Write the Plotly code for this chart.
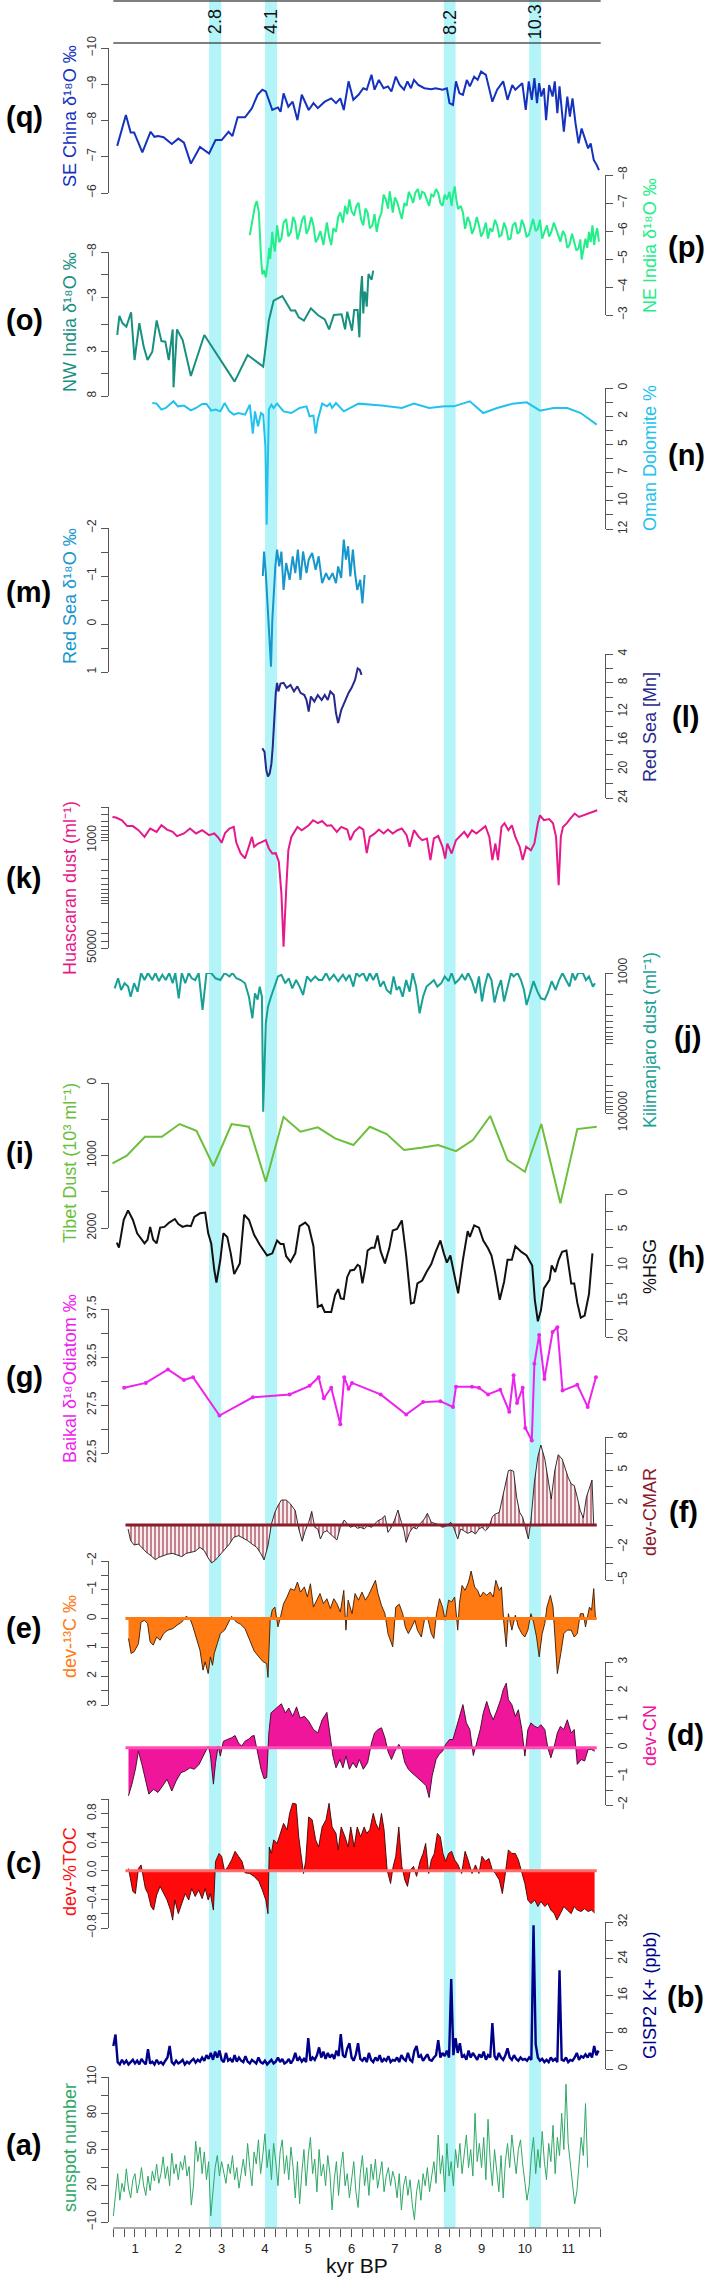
import plotly.graph_objects as go

# ---------------- data: (kyr BP, value) ----------------
se_china = [(0.59, -7.3), (0.79, -8.15), (0.9, -7.67), (0.98, -7.67), (1.17, -7.12), (1.36, -7.69), (1.45, -7.55),
            (1.53, -7.57), (1.66, -7.54), (1.85, -7.35), (2.0, -7.5), (2.13, -7.39), (2.29, -6.81), (2.5, -7.27),
            (2.71, -7.09), (2.86, -7.46), (3.0, -7.46), (3.16, -7.69), (3.25, -7.57), (3.37, -8.09), (3.54, -8.09),
            (3.7, -8.34), (3.83, -8.71), (3.94, -8.85), (4.02, -8.8), (4.17, -8.29), (4.3, -8.36), (4.36, -8.24),
            (4.43, -8.75), (4.54, -8.38), (4.64, -8.52), (4.75, -8.01), (4.85, -8.71), (5.01, -8.29), (5.12, -8.48),
            (5.22, -8.34), (5.38, -8.52), (5.53, -8.61), (5.64, -8.48), (5.74, -8.61), (5.82, -8.29), (5.93, -9.08),
            (6.04, -8.57), (6.16, -8.71), (6.27, -8.89), (6.35, -8.85), (6.46, -9.26), (6.53, -8.85), (6.63, -9.12),
            (6.74, -8.89), (6.84, -8.94), (6.92, -8.8), (7.02, -9.21), (7.11, -8.98), (7.21, -8.85), (7.29, -9.08),
            (7.37, -8.89), (7.44, -9.12), (7.54, -8.98), (7.68, -8.89), (7.84, -8.86), (7.94, -8.89), (8.1, -8.85),
            (8.2, -8.89), (8.26, -8.48), (8.34, -8.43), (8.41, -9.08), (8.49, -8.75), (8.57, -8.71), (8.66, -9.12),
            (8.73, -8.94), (8.83, -9.21), (8.91, -9.12), (8.99, -9.35), (9.1, -9.26), (9.25, -8.52), (9.36, -8.85),
            (9.5, -9.08), (9.6, -8.57), (9.71, -8.98), (9.78, -8.85), (9.85, -8.94), (9.94, -9.03), (10.02, -8.29),
            (10.09, -9.08), (10.16, -8.57), (10.22, -9.17), (10.28, -8.48), (10.33, -9.03), (10.38, -8.66),
            (10.44, -8.89), (10.49, -8.01), (10.56, -8.98), (10.64, -8.66), (10.69, -9.08), (10.75, -8.2),
            (10.8, -8.94), (10.9, -7.69), (10.98, -8.66), (11.04, -8.11), (11.1, -8.61), (11.17, -7.92),
            (11.24, -7.37), (11.31, -7.78), (11.4, -7.46), (11.46, -7.23), (11.52, -7.37), (11.59, -6.91),
            (11.66, -6.77), (11.71, -6.63)]

ne_india = [(3.65, -5.85), (3.69, -6.2), (3.73, -6.43), (3.77, -6.9), (3.81, -7.07), (3.86, -6.66), (3.91, -5.03),
            (3.94, -4.45), (3.98, -4.6), (4.02, -4.34), (4.07, -4.92), (4.1, -5.4), (4.12, -5.0), (4.17, -5.97),
            (4.2, -5.5), (4.23, -5.27), (4.28, -6.2), (4.33, -5.6), (4.38, -5.73), (4.43, -6.3), (4.49, -6.43),
            (4.54, -5.8), (4.6, -5.97), (4.65, -6.5), (4.7, -6.31), (4.75, -5.7), (4.8, -5.97), (4.86, -6.4),
            (4.91, -6.55), (4.96, -5.9), (5.01, -6.08), (5.07, -6.5), (5.12, -6.2), (5.17, -5.6), (5.22, -5.73),
            (5.28, -6.0), (5.35, -5.5), (5.39, -5.9), (5.43, -6.31), (5.48, -5.8), (5.53, -5.5), (5.58, -6.1),
            (5.64, -5.97), (5.69, -6.5), (5.74, -6.66), (5.8, -6.3), (5.85, -6.9), (5.9, -6.6), (5.95, -7.13),
            (6.0, -6.7), (6.06, -6.55), (6.11, -6.9), (6.16, -7.01), (6.22, -6.4), (6.27, -6.2), (6.32, -6.8),
            (6.37, -6.66), (6.42, -6.1), (6.48, -6.2), (6.53, -6.6), (6.58, -5.97), (6.63, -6.4), (6.69, -6.66),
            (6.74, -7.3), (6.79, -7.13), (6.84, -6.8), (6.88, -7.42), (6.92, -7.0), (6.95, -6.66), (7.0, -7.2),
            (7.06, -7.01), (7.11, -6.7), (7.16, -6.43), (7.22, -7.0), (7.27, -6.9), (7.32, -7.4), (7.37, -7.24),
            (7.42, -7.0), (7.47, -7.36), (7.53, -7.5), (7.58, -7.13), (7.63, -7.4), (7.68, -7.36), (7.74, -7.1),
            (7.79, -6.9), (7.84, -7.3), (7.89, -7.24), (7.95, -7.5), (8.0, -7.36), (8.05, -7.0), (8.1, -6.9),
            (8.15, -7.3), (8.2, -7.13), (8.26, -7.4), (8.31, -6.9), (8.34, -7.3), (8.38, -7.59), (8.42, -7.1),
            (8.46, -6.78), (8.52, -6.9), (8.57, -6.66), (8.62, -6.08), (8.68, -6.5), (8.73, -6.31), (8.78, -5.9),
            (8.83, -6.08), (8.89, -6.5), (8.94, -6.2), (8.99, -5.8), (9.04, -5.97), (9.1, -6.3), (9.15, -5.73),
            (9.2, -6.1), (9.25, -5.97), (9.31, -6.4), (9.36, -6.2), (9.41, -5.8), (9.46, -5.85), (9.52, -6.3),
            (9.57, -6.08), (9.62, -5.7), (9.67, -5.73), (9.72, -6.2), (9.78, -6.31), (9.83, -5.9), (9.88, -5.97),
            (9.93, -6.4), (9.98, -6.2), (10.04, -5.8), (10.09, -5.85), (10.14, -6.2), (10.19, -6.43), (10.25, -6.0),
            (10.3, -6.08), (10.35, -6.4), (10.4, -5.73), (10.46, -6.0), (10.51, -6.2), (10.56, -5.8), (10.61, -5.97),
            (10.67, -6.3), (10.72, -6.08), (10.77, -5.8), (10.82, -5.62), (10.88, -6.0), (10.93, -5.85),
            (10.98, -5.4), (11.03, -5.5), (11.09, -5.9), (11.14, -5.62), (11.19, -5.3), (11.24, -5.38),
            (11.28, -5.7), (11.31, -4.98), (11.36, -5.4), (11.4, -5.73), (11.44, -5.4), (11.48, -5.97),
            (11.52, -5.6), (11.56, -6.2), (11.6, -5.5), (11.63, -5.85), (11.67, -6.1), (11.71, -5.62)]

nw_india = [(0.59, 1.22), (0.64, -0.9), (0.71, -0.1), (0.8, 0.3), (0.91, -1.3), (0.99, 4.0), (1.1, -0.1),
            (1.2, 2.5), (1.29, 4.0), (1.4, 3.07), (1.5, -0.4), (1.61, 1.9), (1.7, 1.96), (1.78, 4.0), (1.87, 0.6),
            (1.89, 7.04), (1.97, 0.6), (2.1, 1.78), (2.29, 5.78), (2.6, 1.22), (3.3, 6.4), (3.6, 3.44),
            (3.96, 4.74), (4.09, -0.4), (4.2, -2.6), (4.4, -3.1), (4.6, -1.5), (4.7, -1.5), (4.78, -0.74),
            (4.9, -0.37), (5.06, -1.74), (5.22, -1.0), (5.38, -0.52), (5.48, 0.6), (5.59, -1.0), (5.77, -1.07),
            (5.85, 0.6), (5.9, -1.37), (6.01, 0.74), (6.06, -1.55), (6.14, -1.55), (6.18, 1.48), (6.21, -3.48),
            (6.24, -5.33), (6.27, -1.18), (6.3, -3.6), (6.32, -3.4), (6.35, -1.93), (6.39, -5.56), (6.46, -4.9),
            (6.5, -5.93)]

oman_dolomite = [(1.4, 1.28), (1.5, 1.33), (1.61, 1.84), (1.71, 1.7), (1.89, 1.13), (1.99, 1.56), (2.13, 1.5),
                 (2.29, 1.9), (2.41, 1.7), (2.55, 1.36), (2.65, 1.36), (2.76, 1.93), (2.86, 1.84), (2.97, 1.99),
                 (3.07, 1.28), (3.18, 1.99), (3.28, 2.27), (3.39, 2.13), (3.54, 2.27), (3.65, 1.42), (3.72, 3.89),
                 (3.77, 1.99), (3.84, 3.26), (3.91, 2.13), (3.96, 2.27), (4.01, 4.96), (4.04, 11.63), (4.09, 1.84),
                 (4.15, 1.42), (4.2, 1.7), (4.28, 1.33), (4.43, 1.99), (4.61, 2.13), (4.8, 1.7), (4.96, 1.56),
                 (5.03, 2.41), (5.12, 2.35), (5.17, 3.89), (5.22, 2.7), (5.32, 1.33), (5.43, 1.56), (5.5, 1.33),
                 (5.55, 1.7), (5.64, 1.28), (5.82, 1.99), (6.16, 1.33), (6.69, 1.5), (7.16, 1.7), (7.44, 1.33),
                 (7.79, 1.7), (8.15, 1.56), (8.36, 1.56), (8.73, 1.13), (9.04, 2.13), (9.36, 1.7), (9.72, 1.33),
                 (10.04, 1.22), (10.35, 1.93), (10.66, 1.7), (10.98, 1.7), (11.29, 2.13), (11.66, 3.12)]

redsea_d18o = [(3.95, -1.0), (3.98, -1.51), (4.02, -1.06), (4.05, -0.5), (4.08, -0.01), (4.11, 0.48),
               (4.14, 0.89), (4.17, -0.08), (4.2, -0.71), (4.24, -1.2), (4.28, -1.55), (4.33, -1.2),
               (4.38, -1.51), (4.43, -0.71), (4.49, -1.27), (4.57, -0.92), (4.64, -1.41), (4.7, -1.06),
               (4.76, -1.55), (4.82, -0.92), (4.88, -1.51), (4.96, -1.06), (5.01, -1.34), (5.09, -1.48),
               (5.17, -1.13), (5.24, -1.41), (5.32, -0.85), (5.41, -1.06), (5.48, -0.92), (5.56, -1.06),
               (5.64, -0.85), (5.69, -1.2), (5.76, -0.96), (5.82, -1.76), (5.87, -1.34), (5.92, -1.62),
               (5.97, -0.99), (6.03, -1.55), (6.08, -1.06), (6.13, -0.71), (6.2, -0.92), (6.25, -0.43), (6.3, -1.02)]

redsea_mn = [(3.94, 17.1), (3.99, 17.6), (4.03, 20.1), (4.07, 21.0), (4.11, 20.6), (4.15, 19.2), (4.18, 16.9),
             (4.21, 12.7), (4.25, 9.4), (4.28, 8.0), (4.31, 9.2), (4.36, 8.1), (4.43, 8.0), (4.5, 8.7), (4.59, 8.3),
             (4.67, 9.2), (4.75, 8.5), (4.82, 9.4), (4.91, 9.7), (4.96, 10.4), (5.01, 12.0), (5.06, 9.9),
             (5.14, 10.6), (5.22, 9.7), (5.31, 10.4), (5.38, 9.7), (5.45, 10.4), (5.51, 9.2), (5.59, 9.7),
             (5.64, 12.2), (5.69, 13.6), (5.76, 11.8), (5.85, 10.4), (5.93, 9.4), (6.0, 8.7), (6.08, 7.6),
             (6.14, 6.0), (6.19, 6.2), (6.23, 6.9)]

huascaran = [(0.48, 430), (0.56, 440), (0.7, 485), (0.82, 600), (0.95, 600), (1.08, 696), (1.22, 887), (1.35, 655),
             (1.5, 740), (1.61, 581), (1.74, 680), (1.87, 740), (1.97, 865), (2.13, 784), (2.27, 655), (2.41, 784),
             (2.55, 696), (2.71, 834), (2.83, 784), (2.92, 907), (3.0, 1100), (3.08, 770), (3.18, 655), (3.28, 618),
             (3.34, 1100), (3.44, 1620), (3.54, 1940), (3.63, 1270), (3.7, 887), (3.75, 1270), (3.84, 1130),
             (3.91, 1080), (4.02, 1000), (4.09, 1350), (4.17, 1620), (4.25, 1600), (4.32, 2190), (4.38, 6880),
             (4.43, 47600), (4.49, 6110), (4.54, 1440), (4.61, 887), (4.75, 618), (4.85, 696), (5.01, 581),
             (5.11, 485), (5.22, 540), (5.32, 500), (5.43, 590), (5.53, 581), (5.66, 740), (5.76, 618), (5.9, 680),
             (5.97, 1000), (6.06, 740), (6.18, 618), (6.27, 680), (6.35, 1600), (6.42, 887), (6.53, 790), (6.63, 680),
             (6.74, 784), (6.84, 680), (6.95, 784), (7.06, 696), (7.16, 655), (7.27, 834), (7.34, 1270), (7.44, 696),
             (7.55, 887), (7.63, 1000), (7.74, 940), (7.82, 2060), (7.9, 940), (8.0, 860), (8.1, 1270), (8.16, 1950),
             (8.21, 1130), (8.31, 1620), (8.41, 1000), (8.49, 887), (8.6, 740), (8.68, 887), (8.78, 696), (8.88, 784),
             (8.98, 680), (9.09, 600), (9.18, 887), (9.25, 2060), (9.32, 1130), (9.38, 2060), (9.46, 618), (9.53, 540),
             (9.62, 696), (9.7, 581), (9.78, 887), (9.88, 1270), (9.95, 2060), (10.03, 1270), (10.14, 1440),
             (10.22, 1130), (10.3, 540), (10.35, 405), (10.44, 485), (10.56, 465), (10.65, 540), (10.72, 887),
             (10.78, 5100), (10.83, 887), (10.88, 618), (10.97, 540), (11.04, 465), (11.15, 380), (11.25, 430),
             (11.36, 405), (11.46, 380), (11.57, 360), (11.67, 337)]

kilimanjaro = [(0.53, 1655), (0.61, 1190), (0.68, 1750), (0.76, 1400), (0.84, 1565), (0.9, 2180), (0.98, 1400),
               (1.06, 1850), (1.14, 1000), (1.22, 1260), (1.3, 1000), (1.4, 1260), (1.47, 1000), (1.55, 1310),
               (1.63, 1060), (1.71, 1260), (1.79, 1000), (1.87, 1400), (1.93, 1000), (2.01, 2300), (2.08, 1000),
               (2.16, 1400), (2.24, 1000), (2.31, 1190), (2.39, 1260), (2.47, 1000), (2.56, 3370), (2.65, 1000),
               (2.76, 1000), (2.86, 1190), (2.97, 1260), (3.07, 1000), (3.18, 1120), (3.25, 1000), (3.34, 1190),
               (3.44, 1260), (3.54, 1400), (3.63, 2180), (3.71, 4430), (3.77, 1950), (3.83, 2400), (3.88, 1565),
               (3.93, 2180), (3.96, 96000), (4.02, 5180), (4.07, 3030), (4.14, 2180), (4.22, 1565), (4.3, 1120),
               (4.38, 1060), (4.47, 1400), (4.55, 1190), (4.63, 1655), (4.72, 1260), (4.8, 1565), (4.88, 2060),
               (4.97, 1120), (5.06, 1310), (5.16, 1120), (5.24, 1260), (5.32, 1260), (5.41, 1000), (5.49, 1260),
               (5.59, 1060), (5.69, 1310), (5.8, 1060), (5.87, 1260), (5.95, 1060), (6.04, 1565), (6.11, 1000),
               (6.18, 1120), (6.27, 1000), (6.35, 1310), (6.42, 1000), (6.5, 1260), (6.58, 1000), (6.66, 1565),
               (6.74, 1310), (6.81, 1750), (6.9, 1950), (6.97, 1120), (7.04, 1750), (7.1, 1565), (7.18, 2180),
               (7.26, 1260), (7.34, 1850), (7.41, 1000), (7.49, 1565), (7.57, 3760), (7.65, 2180), (7.73, 1565),
               (7.82, 1400), (7.9, 1260), (7.98, 1565), (8.07, 1400), (8.15, 1120), (8.24, 1310), (8.31, 1000),
               (8.39, 1400), (8.47, 1260), (8.55, 1060), (8.62, 1260), (8.69, 1000), (8.78, 1310), (8.86, 1950),
               (8.94, 1120), (9.01, 2550), (9.07, 1565), (9.15, 1000), (9.23, 1260), (9.3, 2650), (9.38, 1655),
               (9.45, 1260), (9.52, 2550), (9.6, 1565), (9.68, 1000), (9.74, 1120), (9.83, 1000), (9.91, 1260),
               (9.98, 1750), (10.04, 2870), (10.12, 1950), (10.2, 1310), (10.29, 1850), (10.37, 2300), (10.46, 2400),
               (10.54, 1850), (10.62, 1310), (10.71, 1750), (10.79, 1260), (10.87, 1000), (10.95, 1260),
               (11.03, 1565), (11.1, 1000), (11.16, 1260), (11.23, 1000), (11.34, 1000), (11.41, 1260),
               (11.48, 1120), (11.57, 1565), (11.62, 1400)]

tibet_dust = [(0.48, 1108), (0.81, 1003), (1.23, 741), (1.62, 741), (2.03, 566), (2.42, 658), (2.81, 1145),
              (3.23, 566), (3.63, 603), (4.02, 1362), (4.43, 469), (4.82, 672), (5.22, 612), (5.62, 764), (6.04, 856),
              (6.42, 603), (6.81, 704), (7.21, 925), (7.61, 893), (8.0, 856), (8.41, 939), (8.8, 787), (9.2, 455),
              (9.6, 1063), (10.0, 1224), (10.38, 566), (10.82, 1660), (11.21, 635), (11.66, 603)]

hsg = [(0.58, 6.8), (0.63, 7.5), (0.74, 3.6), (0.84, 2.3), (0.95, 3.6), (1.05, 5.5), (1.22, 6.9), (1.29, 6.4),
       (1.35, 4.6), (1.42, 6.4), (1.5, 6.9), (1.58, 4.7), (1.68, 4.6), (1.79, 4.0), (1.92, 3.5), (2.0, 4.2),
       (2.1, 4.6), (2.2, 4.4), (2.29, 4.5), (2.37, 3.2), (2.5, 2.7), (2.62, 2.6), (2.69, 5.5), (2.76, 6.9),
       (2.83, 10.6), (2.88, 12.4), (2.97, 9.2), (3.04, 5.5), (3.13, 6.0), (3.21, 8.3), (3.29, 11.2), (3.42, 9.7),
       (3.52, 2.9), (3.63, 3.6), (3.75, 5.7), (3.88, 7.1), (4.05, 8.6), (4.17, 8.3), (4.28, 6.5), (4.36, 7.0),
       (4.43, 7.0), (4.49, 8.7), (4.59, 9.5), (4.7, 8.3), (4.8, 4.5), (4.93, 4.0), (5.01, 4.5), (5.12, 7.3),
       (5.22, 15.8), (5.31, 15.5), (5.38, 16.5), (5.45, 16.5), (5.53, 16.5), (5.62, 14.1), (5.69, 13.3),
       (5.75, 14.6), (5.82, 14.7), (5.9, 11.6), (5.97, 10.7), (6.06, 10.6), (6.14, 9.9), (6.19, 10.1),
       (6.25, 12.5), (6.32, 10.2), (6.37, 7.9), (6.46, 7.5), (6.53, 7.5), (6.6, 5.8), (6.67, 8.0), (6.77, 9.7),
       (6.87, 7.6), (6.95, 5.1), (7.05, 4.9), (7.16, 3.7), (7.26, 8.6), (7.37, 15.3), (7.44, 15.2), (7.52, 12.5),
       (7.63, 12.1), (7.73, 10.9), (7.84, 9.8), (7.94, 8.1), (8.05, 6.5), (8.13, 8.3), (8.2, 9.6), (8.28, 8.6),
       (8.36, 10.9), (8.46, 13.9), (8.57, 9.2), (8.68, 5.2), (8.73, 6.0), (8.83, 4.4), (8.94, 4.7), (9.04, 6.5),
       (9.15, 7.6), (9.23, 8.6), (9.31, 10.9), (9.42, 14.8), (9.52, 12.3), (9.6, 9.2), (9.7, 9.2), (9.78, 7.3),
       (9.92, 8.1), (10.04, 8.6), (10.17, 10.0), (10.23, 14.8), (10.3, 17.8), (10.37, 16.3), (10.44, 13.2),
       (10.57, 12.0), (10.62, 10.0), (10.7, 10.9), (10.78, 9.2), (10.86, 8.1), (10.96, 7.9), (11.07, 12.5),
       (11.14, 12.5), (11.21, 15.2), (11.29, 17.3), (11.38, 17.0), (11.48, 14.0), (11.56, 8.3)]

baikal = [(0.75, 29.3), (1.25, 29.8), (1.76, 31.2), (2.13, 30.1), (2.34, 30.4), (2.95, 26.4), (3.72, 28.3),
          (4.57, 28.6), (5.03, 29.5), (5.24, 30.4), (5.36, 28.2), (5.53, 29.3), (5.74, 25.5), (5.83, 30.4),
          (5.93, 29.2), (6.01, 29.8), (6.67, 28.6), (7.26, 26.5), (7.65, 27.8), (8.05, 27.9), (8.34, 27.3),
          (8.41, 29.4), (8.78, 29.4), (8.94, 29.3), (9.15, 28.6), (9.43, 29.1), (9.64, 26.8), (9.74, 30.6),
          (9.82, 27.7), (9.95, 29.3), (10.01, 25.1), (10.16, 23.8), (10.22, 31.8), (10.33, 34.8), (10.45, 30.2),
          (10.64, 35.1), (10.75, 35.6), (10.87, 29.0), (11.21, 29.6), (11.45, 27.3), (11.64, 30.4)]

dev_cmar = [(0.84, -0.36), (0.9, -1.42), (0.98, -1.82), (1.08, -1.73), (1.19, -2.18), (1.26, -2.48), (1.37, -2.79),
            (1.47, -3.15), (1.55, -2.94), (1.66, -2.79), (1.76, -2.64), (1.87, -2.58), (1.97, -2.7), (2.08, -2.88),
            (2.18, -2.58), (2.29, -2.48), (2.39, -2.39), (2.5, -2.03), (2.6, -2.33), (2.69, -3.0), (2.77, -3.45),
            (2.86, -3.18), (2.97, -2.7), (3.07, -2.27), (3.18, -1.73), (3.28, -1.12), (3.39, -0.97), (3.49, -1.18),
            (3.6, -1.42), (3.7, -1.73), (3.81, -2.03), (3.91, -2.64), (3.98, -3.18), (4.07, -1.88), (4.15, 0.09),
            (4.23, 1.15), (4.3, 1.76), (4.38, 2.27), (4.49, 2.27), (4.59, 1.91), (4.7, 1.3), (4.78, -0.36),
            (4.86, -1.48), (4.93, -0.52), (5.01, 0.24), (5.08, 1.24), (5.15, -0.21), (5.22, -0.36), (5.28, -1.27),
            (5.35, -0.67), (5.43, -0.52), (5.51, -0.82), (5.59, -1.12), (5.66, -1.36), (5.74, -0.21), (5.83, 0.45),
            (5.9, 0.09), (5.97, -0.21), (6.06, -0.06), (6.14, -0.3), (6.21, -0.21), (6.29, -0.36), (6.37, -0.06),
            (6.46, -0.21), (6.53, 0.09), (6.61, 0.39), (6.69, 0.55), (6.77, 0.85), (6.84, -0.67), (6.92, -0.21),
            (7.0, 0.55), (7.07, 1.36), (7.15, 0.24), (7.21, -0.52), (7.26, -1.58), (7.34, -0.67), (7.42, -0.21),
            (7.5, -0.36), (7.59, 0.15), (7.68, 0.55), (7.75, 1.06), (7.84, 0.24), (7.92, 0.15), (8.01, 0.03),
            (8.1, -0.21), (8.2, -0.06), (8.29, 0.24), (8.36, -0.27), (8.45, -1.27), (8.52, -0.36), (8.59, -0.52),
            (8.68, -0.76), (8.78, -0.58), (8.86, -0.82), (8.94, -0.36), (9.01, -0.21), (9.09, -0.52), (9.17, -0.21),
            (9.25, 0.76), (9.32, 1.0), (9.41, 1.15), (9.49, 2.58), (9.57, 3.88), (9.62, 4.94), (9.67, 5.0),
            (9.74, 4.88), (9.81, 2.52), (9.88, 1.15), (9.95, 0.7), (10.02, -0.36), (10.08, -1.27), (10.14, 0.39),
            (10.22, 3.88), (10.3, 6.21), (10.37, 7.27), (10.46, 6.0), (10.54, 4.18), (10.61, 2.36), (10.69, 4.94),
            (10.77, 6.39), (10.86, 6.0), (10.93, 5.09), (11.0, 4.33), (11.07, 3.73), (11.14, 3.58), (11.21, 2.52),
            (11.28, 1.3), (11.35, 0.64), (11.42, 2.52), (11.5, 3.48), (11.55, 4.09), (11.59, -0.06)]

dev_d13c = [(0.85, 0.69), (0.91, 1.21), (0.98, 1.15), (1.08, 0.87), (1.14, 0.12), (1.22, 0.06), (1.29, 0.17),
            (1.35, 0.81), (1.42, 0.92), (1.5, 0.64), (1.58, 0.75), (1.66, 0.52), (1.76, 0.4), (1.87, 0.35),
            (1.97, 0.23), (2.08, 0.12), (2.18, -0.08), (2.27, 0.0), (2.34, 0.29), (2.41, 0.64), (2.5, 1.1),
            (2.57, 1.79), (2.62, 1.5), (2.69, 1.91), (2.74, 1.33), (2.79, 1.62), (2.83, 1.21), (2.9, 0.87),
            (2.97, 0.52), (3.07, 0.4), (3.16, 0.12), (3.23, -0.08), (3.34, 0.12), (3.44, 0.2), (3.54, 0.35),
            (3.65, 0.75), (3.75, 1.12), (3.86, 1.33), (3.96, 1.5), (4.04, 1.56), (4.07, 2.04), (4.12, 0.06),
            (4.17, -0.31), (4.23, -0.4), (4.3, 0.29), (4.36, -0.06), (4.43, -0.52), (4.51, -0.75), (4.59, -1.04),
            (4.68, -0.98), (4.75, -1.27), (4.82, -0.92), (4.91, -1.1), (4.98, -0.75), (5.05, -1.21), (5.12, -0.4),
            (5.19, -0.64), (5.27, -0.87), (5.35, -0.52), (5.43, -0.69), (5.51, -0.35), (5.59, -0.69), (5.66, -0.52),
            (5.74, -0.23), (5.82, -0.98), (5.87, 0.4), (5.92, -0.64), (6.01, -0.17), (6.08, -0.87), (6.16, -0.64),
            (6.24, -0.92), (6.32, -0.64), (6.39, -0.81), (6.48, -1.1), (6.55, -1.33), (6.61, -0.87), (6.69, -0.46),
            (6.77, -0.17), (6.84, 0.52), (6.95, 0.98), (7.02, -0.4), (7.1, -0.5), (7.18, -0.17), (7.24, 0.29),
            (7.31, 0.52), (7.39, 0.29), (7.46, 0.06), (7.52, 0.4), (7.61, 0.64), (7.68, 0.06), (7.75, -0.06),
            (7.84, 0.52), (7.9, 0.69), (7.96, -0.17), (8.03, -0.69), (8.1, -0.4), (8.16, 0.06), (8.24, -0.64),
            (8.31, -0.58), (8.38, -0.75), (8.45, 0.4), (8.49, -0.52), (8.55, -1.15), (8.62, -0.98), (8.7, -1.27),
            (8.76, -1.65), (8.84, -1.1), (8.91, -0.98), (8.97, -0.75), (9.04, -0.92), (9.12, -0.81), (9.2, -0.92),
            (9.27, -0.75), (9.33, -1.33), (9.41, -0.98), (9.46, -1.1), (9.51, 0.06), (9.57, 0.98), (9.62, -0.17),
            (9.7, 0.4), (9.78, -0.12), (9.85, 0.29), (9.93, 0.52), (10.0, 0.64), (10.07, 0.4), (10.14, -0.17),
            (10.2, 0.12), (10.27, 0.64), (10.33, 1.33), (10.4, 0.52), (10.46, 0.17), (10.51, -0.4), (10.59, -0.81),
            (10.65, -0.4), (10.69, 0.4), (10.75, 1.91), (10.83, 1.21), (10.9, 0.52), (10.98, 0.4), (11.07, 0.4),
            (11.14, 0.64), (11.21, 0.52), (11.28, -0.17), (11.35, -0.17), (11.4, 0.29), (11.49, -0.4),
            (11.54, -0.29), (11.59, -1.04), (11.63, 0.0)]

dev_cn = [(0.85, -1.68), (0.93, -1.27), (1.01, -0.75), (1.08, -0.12), (1.16, -0.58), (1.24, -1.1), (1.32, -1.62),
          (1.43, -1.45), (1.53, -1.56), (1.64, -1.33), (1.74, -1.1), (1.85, -1.51), (1.95, -1.16), (2.06, -0.87),
          (2.16, -0.81), (2.27, -0.7), (2.37, -0.75), (2.48, -0.58), (2.58, -0.29), (2.69, 0.06), (2.74, -0.23),
          (2.81, -1.27), (2.86, -0.52), (2.92, 0.06), (2.97, -0.29), (3.04, 0.23), (3.13, 0.29), (3.23, 0.35),
          (3.31, 0.43), (3.39, 0.17), (3.46, 0.06), (3.54, 0.23), (3.63, 0.31), (3.7, 0.41), (3.75, 0.43),
          (3.83, -0.12), (3.91, -0.75), (3.98, -1.08), (4.04, -1.04), (4.09, 0.52), (4.14, 1.22), (4.22, 1.33),
          (4.3, 1.43), (4.38, 1.54), (4.47, 1.22), (4.55, 1.39), (4.64, 1.1), (4.73, 1.43), (4.81, 1.04),
          (4.91, 1.1), (5.01, 0.93), (5.12, 0.64), (5.22, 0.52), (5.32, 0.98), (5.43, 1.24), (5.5, 0.41),
          (5.57, -0.29), (5.64, -0.7), (5.73, -0.41), (5.8, -0.7), (5.87, -0.29), (5.95, -0.75), (6.03, -0.52),
          (6.11, -0.7), (6.18, -0.41), (6.27, -0.75), (6.37, -0.52), (6.46, 0.17), (6.53, 0.52), (6.61, 0.64),
          (6.69, 0.7), (6.77, 0.35), (6.84, -0.12), (6.92, -0.41), (7.0, -0.12), (7.09, 0.12), (7.16, -0.06),
          (7.23, -0.52), (7.31, -0.75), (7.39, -0.87), (7.48, -0.98), (7.56, -1.1), (7.65, -1.22), (7.72, -1.33),
          (7.79, -1.74), (7.86, -0.98), (7.95, -0.41), (8.02, -0.23), (8.1, -0.12), (8.17, 0.12), (8.26, 0.29),
          (8.34, 0.29), (8.41, 0.64), (8.49, 1.04), (8.57, 1.51), (8.65, 0.87), (8.73, 0.64), (8.81, -0.27),
          (8.9, 0.29), (8.97, 0.64), (9.04, 1.22), (9.12, 1.62), (9.2, 1.22), (9.27, 0.98), (9.36, 1.33),
          (9.44, 1.68), (9.5, 2.03), (9.57, 2.26), (9.62, 1.68), (9.7, 1.51), (9.78, 1.1), (9.85, 1.33),
          (9.93, 0.64), (10.0, -0.29), (10.07, 0.64), (10.14, 0.87), (10.23, 0.75), (10.3, 0.7), (10.37, 0.81),
          (10.46, 0.64), (10.53, 0.0), (10.6, -0.35), (10.68, 0.06), (10.75, 0.52), (10.82, 0.75), (10.9, 0.64),
          (10.98, 0.98), (11.07, 0.52), (11.14, 0.64), (11.21, -0.58), (11.3, -0.41), (11.38, -0.46),
          (11.46, -0.06), (11.54, -0.06), (11.61, -0.12)]

dev_toc = [(0.85, 0.03), (0.9, -0.13), (0.95, -0.29), (1.01, -0.32), (1.08, 0.03), (1.14, 0.08), (1.19, -0.08),
           (1.24, -0.25), (1.3, -0.32), (1.37, -0.5), (1.43, -0.55), (1.5, -0.34), (1.58, -0.22), (1.66, -0.32),
           (1.74, -0.41), (1.82, -0.55), (1.87, -0.69), (1.92, -0.41), (2.0, -0.6), (2.08, -0.46), (2.16, -0.32),
           (2.24, -0.41), (2.31, -0.25), (2.39, -0.36), (2.47, -0.27), (2.55, -0.39), (2.62, -0.25), (2.69, -0.41),
           (2.74, -0.32), (2.81, -0.55), (2.86, 0.13), (2.94, 0.24), (3.0, 0.2), (3.07, -0.01), (3.15, 0.06),
           (3.23, 0.15), (3.31, 0.27), (3.39, 0.2), (3.47, 0.13), (3.54, -0.03), (3.65, -0.04), (3.75, -0.08),
           (3.86, -0.15), (3.94, -0.27), (4.02, -0.41), (4.07, -0.6), (4.1, 0.33), (4.15, 0.24), (4.2, 0.43),
           (4.28, 0.38), (4.35, 0.52), (4.43, 0.66), (4.51, 0.57), (4.57, 0.8), (4.64, 0.94), (4.72, 0.93),
           (4.78, 0.47), (4.84, 0.2), (4.89, -0.04), (4.94, 0.13), (5.01, 0.75), (5.09, 0.71), (5.17, 0.43),
           (5.24, 0.33), (5.32, 0.61), (5.41, 0.71), (5.48, 0.94), (5.55, 0.61), (5.64, 0.52), (5.69, 0.29),
           (5.76, 0.61), (5.85, 0.47), (5.92, 0.33), (5.98, 0.61), (6.06, 0.33), (6.13, 0.61), (6.21, 0.47),
           (6.29, 0.61), (6.35, 0.52), (6.42, 0.57), (6.5, 0.8), (6.56, 0.66), (6.63, 0.57), (6.69, 0.8),
           (6.75, 0.57), (6.82, 0.01), (6.9, -0.18), (6.96, 0.06), (7.02, 0.2), (7.09, 0.61), (7.16, 0.06),
           (7.23, -0.13), (7.29, -0.22), (7.36, 0.01), (7.43, 0.06), (7.5, -0.08), (7.58, 0.13), (7.65, 0.24),
           (7.71, 0.38), (7.78, -0.04), (7.84, 0.15), (7.91, 0.24), (7.98, 0.52), (8.05, 0.47), (8.11, 0.24),
           (8.17, 0.13), (8.24, 0.24), (8.31, 0.27), (8.38, 0.15), (8.46, 0.08), (8.54, -0.04), (8.62, 0.27),
           (8.69, 0.15), (8.78, -0.04), (8.86, 0.08), (8.94, -0.04), (9.01, 0.2), (9.09, 0.13), (9.17, 0.17),
           (9.25, 0.01), (9.32, -0.04), (9.41, -0.13), (9.48, -0.32), (9.54, -0.08), (9.62, 0.29), (9.7, 0.24),
           (9.78, 0.24), (9.85, 0.15), (9.93, -0.01), (10.0, -0.18), (10.07, -0.41), (10.14, -0.46), (10.23, -0.41),
           (10.3, -0.5), (10.37, -0.43), (10.46, -0.5), (10.53, -0.46), (10.6, -0.55), (10.68, -0.6),
           (10.74, -0.69), (10.82, -0.6), (10.9, -0.5), (10.98, -0.55), (11.07, -0.6), (11.14, -0.5),
           (11.21, -0.55), (11.3, -0.57), (11.38, -0.53), (11.46, -0.57), (11.54, -0.55), (11.61, -0.59)]

# GISP2 K+ (ppb), one value every 0.05 kyr starting at 0.50 kyr
gisp2_k = [5, 7.5, 1.5, 1, 2, 1.2, 1.8, 1, 1.5, 2,
           1.2, 1.8, 1, 2.2, 1.5, 1, 4.3, 1.2, 1.6, 1,
           2, 1.2, 1.5, 1, 1.8, 2.5, 5, 1.5, 1, 1.8,
           1.2, 1.5, 2, 1, 1.6, 1.2, 1.8, 2.2, 1.4, 2,
           1.6, 2.5, 1.8, 3, 2.2, 3.5, 2, 3.8, 2.5, 4,
           2, 1.5, 3.5, 1.8, 2.2, 1.5, 3, 1.6, 2.5, 1.8,
           1.5, 2.8, 1.6, 1.2, 2, 1.5, 1.2, 2.5, 1.5, 1.2,
           1.8, 1, 1.5, 2, 1.2, 1.6, 2.5, 1.5, 2.2, 1.2,
           1.5, 2.2, 1.2, 2, 3.5, 1.8, 2.5, 1.6, 2.2, 1.5,
           6.7, 1.8, 2.5, 2, 3, 4.7, 2.5, 3.8, 2.2, 3.5,
           2.5, 3.2, 2.2, 4, 2.8, 7.6, 3, 2.5, 4.5, 5.6,
           2.5, 1.8, 3.2, 5.6, 2.2, 1.8, 2.5, 1.5, 3.5, 2,
           1.5, 2.5, 1.8, 3, 1.5, 2.2, 1.8, 2.8, 1.5, 2,
           1.8, 2.5, 1.5, 3, 2.2, 1.8, 3.5, 2, 1.6, 4,
           5, 2.5, 3, 1.8, 2.5, 3.2, 2, 1.8, 2.5, 3,
           6.3, 2.5, 3.5, 2.8, 4, 2.5, 19.6, 3, 6.7, 3.5,
           5.6, 2.5, 3, 2, 4, 2.5, 3.5, 2.8, 2, 3.2,
           2.5, 3.8, 2, 3, 2.5, 10, 2.8, 2, 3.5, 2.5,
           2, 3, 4.5, 2.5, 2, 3, 2.2, 1.8, 2.5, 2,
           2.2, 1.8, 2.5, 2, 31.3, 5.4, 2.5, 1.8, 2.2, 1.5,
           2, 1.5, 2.5, 1.8, 2.2, 1.5, 21.5, 2, 1.8, 2.5,
           1.5, 2, 1.8, 2.5, 3.5, 2, 2.8, 2.5, 3.2, 2.5,
           3.5, 2.5, 5, 3, 4]

# sunspot number, one value every 0.05 kyr starting at 0.50 kyr
sunspot = [-5, 12, 30, 8, 22, 15, 34, 18, 10, 25,
           30, 14, 22, 35, 20, 12, 28, 16, 32, 24,
           38, 22, 30, 44, 26, 36, 20, 47, 30, 38,
           25, 40, 33, 45, 28, 36, 4, 20, 57, 40,
           52, 30, 48, 25, 40, -5, 15, 35, 45, 28,
           40, 32, 22, 38, 30, 45, 25, 35, 18, 30,
           42, 28, 55, 35, 20, 48, 38, 58, 30, 45,
           63, 35, 50, 25, 55, 40, 20, 48, 58, 30,
           45, 25, 52, 35, 10, 40, 5, 30, 50, 20,
           45, 60, 30, 42, 15, 50, 28, 38, 20, 45,
           30, 0, 25, 40, 12, 35, 48, 20, 30, 10,
           28, 40, 15, 2, 30, 45, 20, 35, 12, 38,
           25, 42, 18, 30, 40, 15, 28, 35, 20, 32,
           25, 10, 30, 0, 20, 28, 12, 25, 5, -8,
           15, 25, 8, 30, 20, 35, 15, 28, 40, 22,
           62, 30, 45, 15, 55, 28, 40, 20, 50, 35,
           55, 30, 45, 62, 35, 50, 28, 80, 40, 55,
           35, 60, 25, 75, 40, 20, 50, 30, 15, 45,
           10, 40, 55, 35, 62, 45, 30, 50, 58, 38,
           25, 8, 20, 45, 60, 30, 50, 35, 65, 40,
           25, 55, 40, 70, 30, 60, 45, 80, 50, 104,
           55, 40, 20, 5, 15, 40, 60, 45, 88, 35]

event_labels = ["2.8", "4.1", "8.2", "10.3"]
event_label_kyr = [2.85, 4.14, 8.27, 10.24]
event_bands = [(2.71, 2.99), (4.0, 4.28), (8.13, 8.4), (10.1, 10.37)]

# ---------------- page geometry (window pixels; body margin removed in the page) ----------------
W, H = 709, 2280
ML, MT = 109, 0
X_AXIS = 2228                 # row of the kyr axis
PH = X_AXIS - MT
MB = H - PH
PW = 496
MR = W - ML - PW
AX = "#555555"
FONT = "Liberation Sans, Arial, Helvetica, sans-serif"


def py(p):
    return (X_AXIS - p) / PH


def px(p):
    return (p - ML) / PW


def lab(v):
    return ("%g" % v).replace("-", "\u2212")


def yax(top, bot, side, rng, tv, tt, log=False):
    d = dict(domain=[py(bot), py(top)], anchor="x", side=side, range=rng,
             tickmode="array", tickvals=tv, ticktext=tt,
             showline=True, linecolor=AX, linewidth=1, ticks="outside", ticklen=7,
             tickcolor=AX, tickwidth=1, tickfont=dict(size=12, color="#333333", family=FONT),
             tickangle=-90, showgrid=False, zeroline=False, fixedrange=True)
    if log:
        d["type"] = "log"
    return d


def sparse(vals, keep):
    return [lab(v) if v in keep else "" for v in vals]


fig = go.Figure()


def line(data, yref, color, width=2.0, **kw):
    xs, ys = zip(*data)
    fig.add_trace(go.Scatter(x=xs, y=ys, xaxis="x", yaxis=yref, mode="lines",
                             line=dict(color=color, width=width), hoverinfo="skip",
                             showlegend=False, **kw))


def area(data, yref, fill, edge="#2a1010", **kw):
    xs, ys = zip(*data)
    fig.add_trace(go.Scatter(x=xs, y=ys, xaxis="x", yaxis=yref, mode="lines", fill="tozeroy",
                             fillcolor=fill, line=dict(color=edge, width=0.9), hoverinfo="skip",
                             showlegend=False, **kw))


C = dict(q="#1432bd", p="#22ee8a", o="#18907f", n="#22c2ee", m="#1696cc", l="#27298c", k="#e6198b",
         j="#17a096", i="#6bbf3c", h="#111111", g="#ee22ee", f="#8b1a2a", e="#ff7a10", d="#f0149a",
         c="#ff1010", b="#00008b", a="#2ea866")

line(se_china, "y", C["q"])
line(ne_india, "y2", C["p"])
line(nw_india, "y3", C["o"])
line(oman_dolomite, "y4", C["n"])
line(redsea_d18o, "y5", C["m"])
line(redsea_mn, "y6", C["l"])
line(huascaran, "y7", C["k"])
line(kilimanjaro, "y8", C["j"])
line(tibet_dust, "y9", C["i"])
line(hsg, "y10", C["h"])
bx, by = zip(*baikal)
fig.add_trace(go.Scatter(x=bx, y=by, xaxis="x", yaxis="y11", mode="lines+markers",
                         line=dict(color=C["g"], width=2), marker=dict(size=4, color=C["g"]),
                         hoverinfo="skip", showlegend=False))
area(dev_cmar, "y12", "#f3d6dc", edge="#1a1a1a",
     fillpattern=dict(shape="|", size=4, solidity=0.5, fgcolor=C["f"], bgcolor="#fbecef"))
area(dev_d13c, "y13", "#ff7a12", edge="#3a1800")
area(dev_cn, "y14", "#f0169c", edge="#3a0622")
area(dev_toc, "y15", "#ff0a0a", edge="#3a0606")
gx = [0.5 + 0.05 * i for i in range(len(gisp2_k))]
fig.add_trace(go.Scatter(x=gx, y=gisp2_k, xaxis="x", yaxis="y16", mode="lines",
                         line=dict(color=C["b"], width=2.4), hoverinfo="skip", showlegend=False))
sx = [0.5 + 0.05 * i for i in range(len(sunspot))]
fig.add_trace(go.Scatter(x=sx, y=sunspot, xaxis="x", yaxis="y17", mode="lines",
                         line=dict(color=C["a"], width=1), hoverinfo="skip", showlegend=False))

# ---------------- axes ----------------
k_ticks = [300, 400, 500, 600, 700, 800, 900, 1000, 2000, 3000, 4000, 5000, 6000, 7000, 8000, 9000,
           10000, 20000, 30000, 40000, 50000]
j_ticks = [1000, 2000, 3000, 4000, 5000, 6000, 7000, 8000, 9000, 10000, 20000, 30000, 40000, 50000,
           60000, 70000, 80000, 90000, 100000]
n_pos = [0, 1.2, 2.4, 3.6, 4.8, 6, 7.2, 8.4, 9.6, 10.8, 12]
n_txt = ["0", "", "2", "", "5", "", "7", "", "10", "", "12"]
half = [-2, -1.5, -1, -0.5, 0, 0.5, 1, 1.5, 2, 2.5, 3]

axes = {
    "yaxis": yax(48, 193, "left", [-6, -10], [-10, -9, -8, -7, -6], [lab(v) for v in [-10, -9, -8, -7, -6]]),
    "yaxis2": yax(175, 315, "right", [-3, -8], [-8, -7, -6, -5, -4, -3], [lab(v) for v in range(-8, -2)]),
    "yaxis3": yax(252, 396, "left", [8, -8], [-8, -5.5, -3, 0, 3, 5.5, 8],
                  sparse([-8, -5.5, -3, 0, 3, 5.5, 8], [-8, -3, 3, 8])),
    "yaxis4": yax(388, 529, "right", [12, 0], n_pos, n_txt),
    "yaxis5": yax(528, 672, "left", [1, -2], [-2, -1.5, -1, -0.5, 0, 0.5, 1],
                  sparse([-2, -1.5, -1, -0.5, 0, 0.5, 1], [-2, -1, 0, 1])),
    "yaxis6": yax(654, 798, "right", [24, 4], list(range(4, 25, 2)),
                  sparse(list(range(4, 25, 2)), [4, 8, 12, 16, 20, 24])),
    "yaxis7": yax(807, 948, "left", [4.69897, 2.4771], k_ticks, sparse(k_ticks, [1000, 50000]), log=True),
    "yaxis8": yax(973, 1113, "right", [5, 3], j_ticks, sparse(j_ticks, [1000, 100000]), log=True),
    "yaxis9": yax(1083, 1228, "left", [2000, 0], [0, 500, 1000, 1500, 2000], ["0", "", "1000", "", "2000"]),
    "yaxis10": yax(1194, 1337, "right", [20, 0], [0, 2.5, 5, 7.5, 10, 12.5, 15, 17.5, 20],
                   sparse([0, 2.5, 5, 7.5, 10, 12.5, 15, 17.5, 20], [0, 5, 10, 15, 20])),
    "yaxis11": yax(1309, 1453, "left", [22.5, 37.5], [22.5, 25, 27.5, 30, 32.5, 35, 37.5],
                   sparse([22.5, 25, 27.5, 30, 32.5, 35, 37.5], [22.5, 27.5, 32.5, 37.5])),
    "yaxis12": yax(1437, 1580, "right", [-5, 8], [-5, -3.5, -2, 0, 2, 3.5, 5, 6.5, 8],
                   sparse([-5, -3.5, -2, 0, 2, 3.5, 5, 6.5, 8], [-5, -2, 2, 5, 8])),
    "yaxis13": yax(1561, 1705, "left", [3, -2], half, sparse(half, [-2, -1, 0, 1, 2, 3])),
    "yaxis14": yax(1662, 1805, "right", [-2, 3], half, sparse(half, [-2, -1, 0, 1, 2, 3])),
    "yaxis15": yax(1799, 1928, "left", [-0.8, 1.0], [-0.8, -0.6, -0.4, -0.2, 0, 0.2, 0.4, 0.6, 0.8, 1.0],
                   ["\u22120.8", "", "\u22120.4", "", "0.0", "", "0.4", "", "0.8", ""]),
    "yaxis16": yax(1922, 2069, "right", [0, 32], list(range(0, 33, 4)),
                   sparse(list(range(0, 33, 4)), [0, 8, 16, 24, 32])),
    "yaxis17": yax(2077, 2222, "left", [-10, 110], [-10, 5, 20, 35, 50, 65, 80, 95, 110],
                   sparse([-10, 5, 20, 35, 50, 65, 80, 95, 110], [-10, 20, 50, 80, 110])),
}

x_ticks = [0.5 + 0.25 * i for i in range(46)]
x_text = [str(int(v)) if abs(v - round(v)) < 1e-9 else "" for v in x_ticks]

fig.update_layout(
    width=W, height=H, autosize=False,
    margin=dict(l=ML, r=MR, t=MT, b=MB, autoexpand=False),
    paper_bgcolor="white", plot_bgcolor="rgba(0,0,0,0)",
    font=dict(family=FONT, color="#222222"),
    xaxis=dict(domain=[0, 1], range=[0.4, 11.85], anchor="free", position=0, showline=False,
               tickmode="array", tickvals=x_ticks, ticktext=x_text, ticks="outside", ticklen=8,
               tickcolor=AX, tickfont=dict(size=13, color="#222222", family=FONT),
               showgrid=False, zeroline=False, fixedrange=True),
    **axes,
)

# ---------------- shapes: event bands, baselines, frame lines ----------------
shapes = []
for a0, a1 in event_bands:
    shapes.append(dict(type="rect", xref="x", yref="paper", x0=a0, x1=a1, y0=0, y1=1,
                       fillcolor="#b3f4f8", line=dict(width=0), layer="below"))
for yy in (py(1), py(43)):
    shapes.append(dict(type="line", xref="x", yref="paper", x0=0.5, x1=11.75, y0=yy, y1=yy,
                       line=dict(color=AX, width=1.5)))
shapes.append(dict(type="line", xref="x", yref="paper", x0=0.5, x1=11.75, y0=0, y1=0,
                   line=dict(color=AX, width=1.2)))
for yref, col in [("y12", "#8b1a2a"), ("y13", "#ff7a12"), ("y14", "#ff4fb4"), ("y15", "#ff6a6a")]:
    shapes.append(dict(type="line", xref="x", yref=yref, x0=0.78, x1=11.66, y0=0, y1=0,
                       line=dict(color=col, width=3)))
fig.update_layout(shapes=shapes)

# ---------------- text ----------------
ann = []
for t, xk in zip(event_labels, event_label_kyr):
    ann.append(dict(text=t, x=xk, y=py(22), xref="x", yref="paper", showarrow=False, textangle=-90,
                    xanchor="center", yanchor="middle",
                    font=dict(size=18, color="#111111", family=FONT)))

titles = [
    ("SE China \u03b4\u00b9\u2078O \u2030", 70, 116, C["q"]),
    ("NE India \u03b4\u00b9\u2078O \u2030", 650, 246, C["p"]),
    ("NW India \u03b4\u00b9\u2078O \u2030", 70, 322, C["o"]),
    ("Oman Dolomite %", 650, 458, C["n"]),
    ("Red Sea \u03b4\u00b9\u2078O \u2030", 70, 596, C["m"]),
    ("Red Sea [Mn]", 650, 727, C["l"]),
    ("Huascaran dust (ml\u207b\u00b9)", 70, 888, C["k"]),
    ("Kilimanjaro dust (ml\u207b\u00b9)", 650, 1040, C["j"]),
    ("Tibet Dust (10\u00b3 ml\u207b\u00b9)", 70, 1163, C["i"]),
    ("%HSG", 650, 1267, C["h"]),
    ("Baikal \u03b4\u00b9\u2078Odiatom \u2030", 70, 1379, C["g"]),
    ("dev-CMAR", 650, 1512, C["f"]),
    ("dev-\u00b9\u00b3C \u2030", 70, 1637, C["e"]),
    ("dev-CN", 650, 1736, C["d"]),
    ("dev-%TOC", 70, 1872, C["c"]),
    ("GISP2 K+ (ppb)", 650, 1995, C["b"]),
    ("sunspot number", 70, 2148, C["a"]),
]
for t, xx, yy, col in titles:
    ann.append(dict(text=t, x=px(xx), y=py(yy), xref="paper", yref="paper", showarrow=False,
                    textangle=-90, xanchor="center", yanchor="middle",
                    font=dict(size=18, color=col, family=FONT)))

# panel letters: left ones keep their left edge, right ones their right edge
letters_left = [("(q)", 117), ("(o)", 320), ("(m)", 592), ("(k)", 878), ("(i)", 1153), ("(g)", 1377),
                ("(e)", 1628), ("(c)", 1863), ("(a)", 2145)]
letters_right = [("(p)", 706, 247), ("(n)", 706, 455), ("(l)", 700, 717), ("(j)", 702, 1037),
                 ("(h)", 706, 1257), ("(f)", 699, 1512), ("(d)", 705, 1735), ("(b)", 705, 1997)]
for t, yy in letters_left:
    ann.append(dict(text="<b>%s</b>" % t, x=px(5), y=py(yy), xref="paper", yref="paper", showarrow=False,
                    xanchor="left", yanchor="middle", borderpad=0,
                    font=dict(size=29, color="#000000", family=FONT)))
for t, xx, yy in letters_right:
    ann.append(dict(text="<b>%s</b>" % t, x=px(xx), y=py(yy), xref="paper", yref="paper", showarrow=False,
                    xanchor="right", yanchor="middle", borderpad=0,
                    font=dict(size=29, color="#000000", family=FONT)))

ann.append(dict(text="kyr BP", x=px(357), y=py(2265), xref="paper", yref="paper", showarrow=False,
                xanchor="center", yanchor="middle",
                font=dict(size=21, color="#111111", family=FONT)))
fig.update_layout(annotations=ann)

# drop the browser's default 8px body margin so the figure sits flush with the window,
# and keep the plotly toolbar off the picture
fig.write_html("out.html", config={"displayModeBar": False},
               post_script="document.body.style.margin='0px';")
